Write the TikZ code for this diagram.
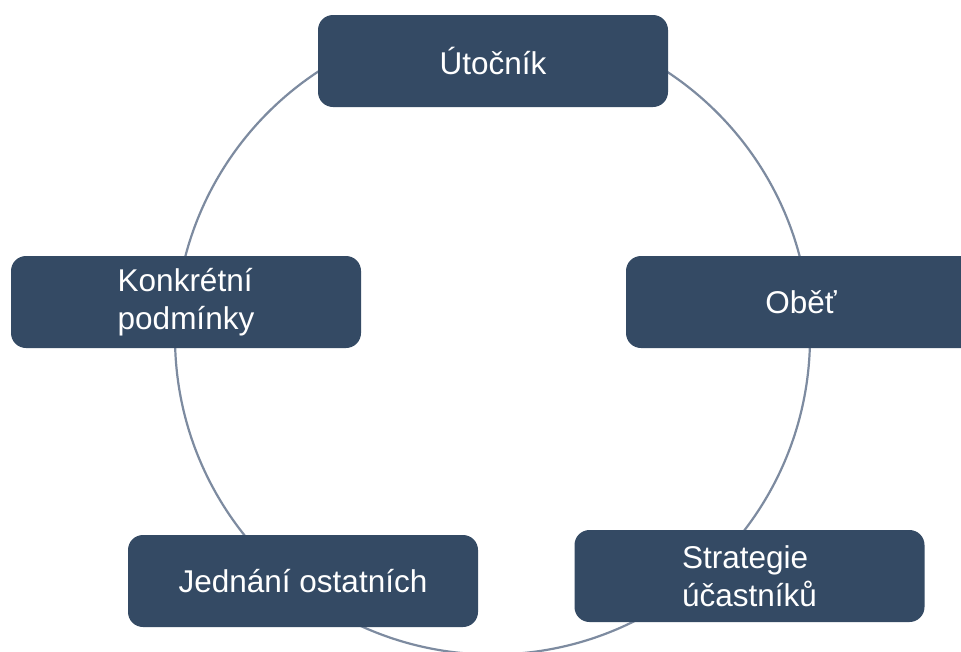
\documentclass[tikz,border=0pt]{standalone}
\usepackage{fontspec}
\setmainfont{Liberation Sans}
\definecolor{boxfill}{HTML}{344A64}
\definecolor{ringcol}{HTML}{7D8BA0}
\begin{document}
\begin{tikzpicture}[x=1pt,y=-1pt,
  stagebox/.style={fill=boxfill, draw=none, rounded corners=15pt,
    minimum width=350pt, minimum height=92pt, inner sep=0pt,
    text=white, align=center, font=\fontsize{31.5}{37.5}\selectfont}]
\useasboundingbox (0,0) rectangle (961,651);
\fill[white] (0,0) rectangle (961,651);
\draw[ringcol, line width=2.2pt] (492.5,337) circle (317.5);
\node[stagebox] (utocnik) at (493,61) {Útočník};
\node[stagebox, align=left] (podminky) at (186,302) {Konkrétní\\podmínky};
\node[stagebox] (obet) at (801,302) {Oběť};
\node[stagebox] (jednani) at (303,581) {Jednání ostatních};
\node[stagebox, align=left] (strategie) at (749.5,576) {Strategie\\účastníků};
\end{tikzpicture}
\end{document}
